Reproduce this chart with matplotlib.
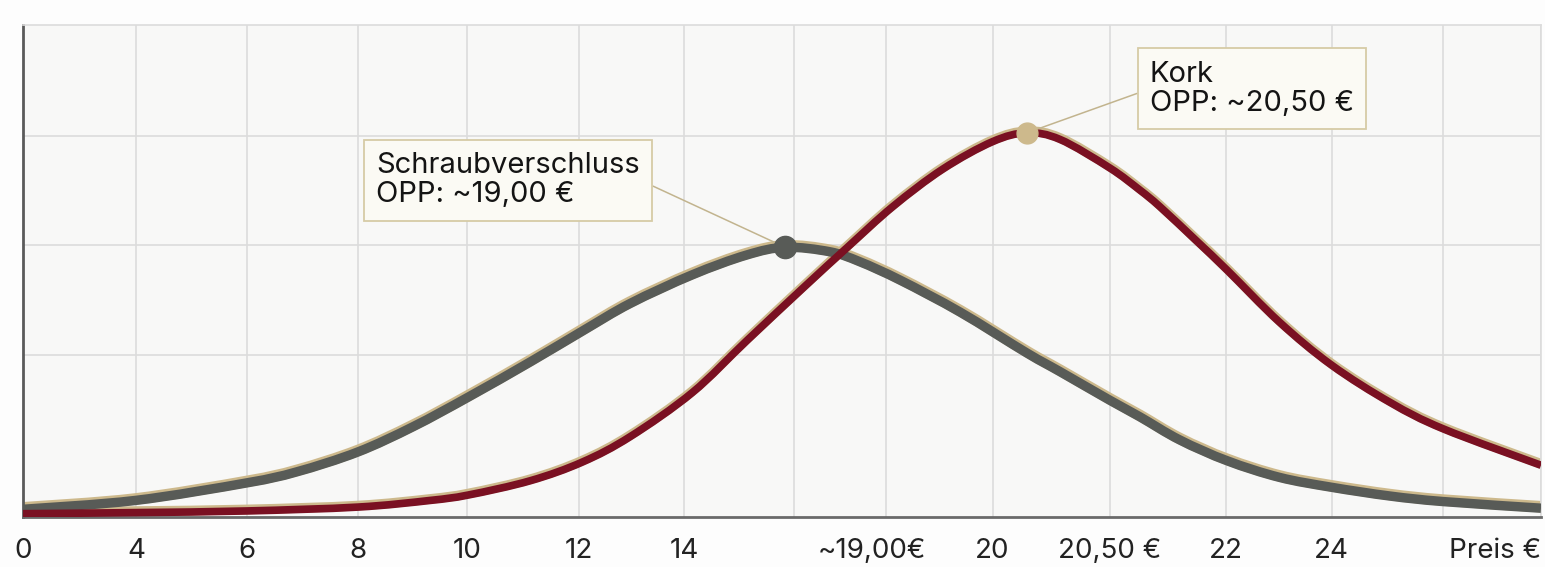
import matplotlib
matplotlib.use("Agg")
import numpy as np
import matplotlib.pyplot as plt
import matplotlib.transforms as mtransforms
from matplotlib.path import Path
from matplotlib.patches import PathPatch

plt.rcParams['font.family'] = ['Inter', 'DejaVu Sans']

# price axis: grid positions and their labels
grid_x = [0.00, 1.02, 2.02, 3.02, 4.01, 5.02, 5.97, 6.96, 7.79, 8.75, 9.81, 10.86, 11.81, 12.82, 13.70]
grid_labels = ["0", "4", "6", "8", "10", "12", "14", "", "~19,00€", "20", "20,50 €", "22", "24", "", "Preis €"]
grid_y = [1.47, 2.47, 3.46]

# Schraubverschluss curve
screw_x = [0.00, 1.01, 2.02, 2.47, 3.02, 3.52, 4.02, 4.58, 5.05, 5.48, 6.04, 6.53, 6.88,
           7.28, 7.55, 7.92, 8.46, 9.06, 9.36, 9.81, 10.08, 10.44, 10.87, 11.34, 11.81,
           12.34, 12.82, 13.70]
screw_y = [0.07, 0.15, 0.31, 0.41, 0.59, 0.82, 1.09, 1.41, 1.69, 1.94, 2.20, 2.38, 2.45,
           2.41, 2.32, 2.15, 1.86, 1.49, 1.32, 1.06, 0.91, 0.70, 0.51, 0.36, 0.27,
           0.19, 0.14, 0.08]

# Kork curve
cork_x = [0.00, 1.01, 2.02, 3.02, 3.67, 4.02, 4.58, 5.05, 5.48, 6.04, 6.53, 7.05, 7.44,
          7.85, 8.30, 8.75, 9.06, 9.36, 9.81, 10.08, 10.26, 10.60, 10.87, 11.34, 11.81,
          12.34, 12.82, 13.70]
cork_y = [0.03, 0.04, 0.055, 0.09, 0.15, 0.20, 0.33, 0.50, 0.73, 1.13, 1.60, 2.09, 2.45,
          2.82, 3.16, 3.41, 3.49, 3.43, 3.17, 2.97, 2.82, 2.50, 2.24, 1.77, 1.38,
          1.04, 0.80, 0.47]

screw_peak = (6.88, 2.45)
cork_peak = (9.06, 3.49)

GREY = "#585b57"
WINE = "#7a1022"
TAN = "#cdb98c"


def smooth_path(xs, ys):
    # Catmull-Rom through the points, written as cubic Bezier segments
    pts = np.column_stack([xs, ys])
    pad = np.vstack([pts[0], pts, pts[-1]])
    verts = [pts[0]]
    codes = [Path.MOVETO]
    for i in range(len(pts) - 1):
        p0, p1, p2, p3 = pad[i], pad[i + 1], pad[i + 2], pad[i + 3]
        verts += [p1 + (p2 - p0) / 6, p2 - (p3 - p1) / 6, p2]
        codes += [Path.CURVE4] * 3
    return Path(verts, codes)


def draw_curve(xs, ys, color, lw, tf_halo):
    path = smooth_path(xs, ys)
    ax.add_patch(PathPatch(path, fc="none", ec=TAN, lw=lw + 1.5, capstyle="butt",
                           transform=tf_halo, zorder=2))
    ax.add_patch(PathPatch(path, fc="none", ec=color, lw=lw, capstyle="butt", zorder=3))


fig = plt.figure(figsize=(15.45, 5.67), dpi=100, facecolor="#fdfdfd")
ax = fig.add_axes([23 / 1545, 50 / 567, 1518 / 1545, 492 / 567])
ax.set_facecolor("#f8f8f7")
ax.set_xlim(0, grid_x[-1])
ax.set_ylim(0, 4.47)

for gx in grid_x[1:]:
    ax.axvline(gx, color="#dcdcdc", lw=1.2, zorder=0)
for gy in grid_y:
    ax.axhline(gy, color="#dcdcdc", lw=1.2, zorder=0)

# tan halo slightly above each curve
up = mtransforms.offset_copy(ax.transData, fig=fig, x=0, y=1.5, units="dots")
draw_curve(screw_x, screw_y, GREY, 6.8, up)
draw_curve(cork_x, cork_y, WINE, 5.5, up)

ax.plot(*screw_peak, "o", color=GREY, ms=16, zorder=5)
ax.plot(*cork_peak, "o", color=TAN, ms=15, zorder=5)

box = dict(boxstyle="square,pad=0.42", fc="#fbfaf4", ec="#d6cba6", lw=1.3)
ax.annotate("Schraubverschluss\nOPP: ~19,00 €", xy=screw_peak, xytext=(3.19, 3.06),
            ha="left", va="center", fontsize=21, color="#141414", linespacing=1.12,
            bbox=box, zorder=6,
            arrowprops=dict(arrowstyle="-", color="#c2b48e", lw=1.1, relpos=(1, 0.5),
                            shrinkA=0, shrinkB=9))
ax.annotate("Kork\nOPP: ~20,50 €", xy=cork_peak, xytext=(10.17, 3.89),
            ha="left", va="center", fontsize=21, color="#141414", linespacing=1.12,
            bbox=box, zorder=6,
            arrowprops=dict(arrowstyle="-", color="#c2b48e", lw=1.1, relpos=(0, 0.5),
                            shrinkA=0, shrinkB=9))

ax.set_xticks(grid_x)
ax.set_xticklabels(grid_labels)
ax.set_yticks([])
ax.tick_params(axis="x", length=0, pad=15, labelsize=20, labelcolor="#222222")
labels = ax.get_xticklabels()
labels[8].set_transform(labels[8].get_transform() +
                        mtransforms.ScaledTranslation(-14 / 100, 0, fig.dpi_scale_trans))
labels[-1].set_ha("right")

for side in ["top", "right"]:
    ax.spines[side].set_color("#dcdcdc")
    ax.spines[side].set_linewidth(1.2)
ax.spines["left"].set_color("#5a5a5a")
ax.spines["left"].set_linewidth(2)
ax.spines["bottom"].set_color("#6a6a6a")
ax.spines["bottom"].set_linewidth(2)

fig.savefig("out.png", dpi=100, facecolor=fig.get_facecolor())
